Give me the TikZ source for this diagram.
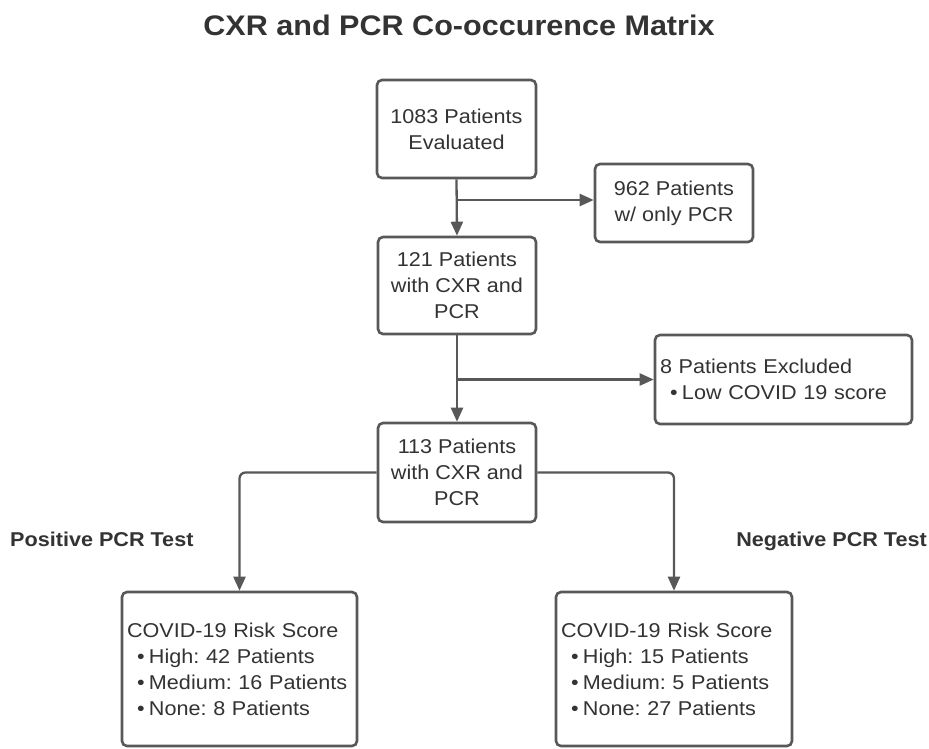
\documentclass[tikz,border=0pt]{standalone}
\usepackage{fontspec}
\setmainfont{Liberation Sans}
\newfontfamily\lsfont[FakeStretch=1.08]{Liberation Sans}
\usetikzlibrary{arrows.meta,positioning}
\frenchspacing
\definecolor{txtc}{HTML}{333333}
\definecolor{linec}{HTML}{585858}
\newcommand{\bulitem}{\hspace*{10pt}\makebox[12pt][l]{•}}
\tikzset{
  boxc/.style={draw=linec, line width=2.6pt, rounded corners=5pt, fill=white,
    text=txtc, font=\lsfont\fontsize{20}{26}\selectfont, inner sep=0pt, align=center},
  leftbox/.style={boxc, align=left, inner xsep=5pt},
  conn/.style={draw=linec, line width=2.3pt, -{Triangle[length=14pt,width=12pt]}},
  branch/.style={draw=linec, line width=2.3pt, rounded corners=6pt, -{Triangle[length=14pt,width=12pt]}},
  titlec/.style={text=txtc, font=\lsfont\bfseries\fontsize{28.3}{34}\selectfont, inner sep=0pt, anchor=base},
  sidelabel/.style={text=txtc, font=\lsfont\bfseries\fontsize{20}{24}\selectfont, inner sep=0pt, anchor=base west}
}
\begin{document}
\begin{tikzpicture}[x=1pt,y=-1pt]
\useasboundingbox[fill=white] (0,0) rectangle (929,748);

\node[titlec] (title) at (459,35) {CXR and PCR Co-occurence Matrix};

\node[boxc, minimum width=159pt, minimum height=98pt] (b1) at (456.5,129) {1083 Patients\\Evaluated};
\node[boxc, minimum width=158pt, minimum height=78pt] (b962) at (674,203) {962 Patients\\w/ only PCR};
\node[boxc, minimum width=158pt, minimum height=97pt] (b2) at (457,285.5) {121 Patients\\with CXR and\\PCR};
\node[leftbox, text width=247pt, minimum height=89pt] (bex) at (783.5,379.5) {8 Patients Excluded\\\bulitem Low COVID 19 score};
\node[boxc, minimum width=158pt, minimum height=99pt] (b3) at (457,472.5) {113 Patients\\with CXR and\\PCR};

\node[sidelabel] (pos) at (10,546) {Positive PCR Test};
\node[sidelabel, anchor=base east] (neg) at (927,546) {Negative PCR Test};

\node[leftbox, text width=225pt, minimum height=154pt] (b4) at (239.5,669)
  {COVID-19 Risk Score\\\bulitem High: 42 Patients\\\bulitem Medium: 16 Patients\\\bulitem None: 8 Patients};
\node[leftbox, text width=226pt, minimum height=154pt] (b5) at (674,669)
  {COVID-19 Risk Score\\\bulitem High: 15 Patients\\\bulitem Medium: 5 Patients\\\bulitem None: 27 Patients};

\coordinate (j1) at (b1.south |- 0,200);
\coordinate (j2) at (b2.south |- 0,379.5);

\draw[conn] (b1.south) -- (b2.north);
\draw[conn] (j1) -- (j1 -| b962.west);
\draw[conn] (b2.south) -- (b3.north);
\draw[conn] (j2) -- (bex.west);
\draw[branch] (b3.west) -| (b4.north);
\draw[branch] (b3.east) -| (b5.north);
\end{tikzpicture}
\end{document}
